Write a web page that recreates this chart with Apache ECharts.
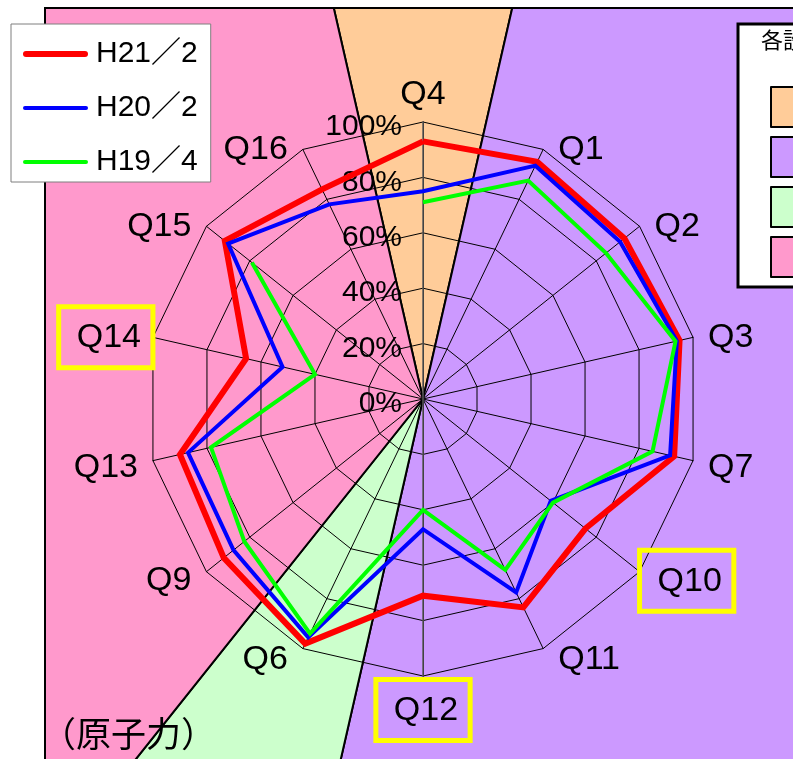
<!DOCTYPE html>
<html>
<head>
<meta charset="utf-8">
<script src="https://cdn.jsdelivr.net/npm/echarts@6/dist/echarts.min.js"></script>
<style>
  html, body { margin: 0; padding: 0; background: #fff; }
  #chart { width: 793px; height: 759px; }
</style>
</head>
<body>
<div id="chart"></div>
<script>
// Questions in clockwise order, starting at 12 o'clock
const categories = ['Q4', 'Q1', 'Q2', 'Q3', 'Q7', 'Q10', 'Q11', 'Q12', 'Q6', 'Q9', 'Q13', 'Q14', 'Q15', 'Q16'];

// Survey rounds (percent per question)
const seriesNames = ['H21／2', 'H20／2', 'H19／4'];
const valuesH21 = [93, 95, 93, 95, 93, 75, 83.5, 71, 98, 92, 90, 65.5, 91.5, 84];
const valuesH20 = [75, 93.5, 91, 94, 91.5, 59, 77.5, 47, 95.5, 87.5, 87, 52, 90, 78];
const valuesH19 = [71, 87.5, 84.5, 93.5, 85, 60, 68.5, 40, 94, 82.5, 78.5, 40, 79, null];

// Radial tick labels
const percentTicks = [0, 20, 40, 60, 80, 100];

// Questions drawn with a marker box
const highlighted = ['Q14', 'Q10', 'Q12'];

// Question groups shown as background sectors
const groupNames = ['設問群1', '設問群2', '設問群3', '設問群4'];
const groupMembers = [
  ['Q4'],
  ['Q1', 'Q2', 'Q3', 'Q7', 'Q10', 'Q11', 'Q12'],
  ['Q6'],
  ['Q9', 'Q13', 'Q14', 'Q15', 'Q16']
];
const groupLegendTitle = '各設問の分類';
const footnote = '（原子力）';

// ---- layout / style ----
const CX = 423, CY = 399, R = 277;
const FONT = "'Liberation Sans', 'Noto Sans CJK JP', sans-serif";
const CJK = "'Noto Sans CJK JP', sans-serif";
const lineColors = ['#ff0000', '#0000ff', '#00ff00'];
const lineWidths = [6, 4, 4];
const groupColors = ['#ffcc99', '#cc99ff', '#ccffcc', '#ff99cc'];

const N = categories.length;
const step = 360 / N;

// ECharts radar runs counter-clockwise, so feed it the reversed tail
const radarOrder = [categories[0]].concat(categories.slice(1).reverse());

// rich-text styles for the axis names
const rich = {
  sp: { lineHeight: 18, fontSize: 1 },
  spb: { lineHeight: 17, fontSize: 1 }
};
categories.forEach((name, k) => {
  const theta = k * step;
  const boxed = highlighted.includes(name);
  const gap = boxed ? 0 : 15;
  let pad;
  if (boxed) pad = [14, 12, 13, 18];
  else if (theta === 0) pad = [0, 0, 21, 0];
  else if (theta === 180) pad = [gap, 0, 0, 0];
  else {
    const low = theta > 90 && theta < 270;
    const dy = low ? Math.round(6 + 5 * Math.abs(Math.cos(theta * Math.PI / 180))) : 0;
    pad = theta < 180 ? [2 * dy, 0, 0, gap] : [2 * dy, gap, 0, 0];
  }
  const st = { padding: pad, fontSize: 34, lineHeight: 34, fontFamily: FONT, color: '#000' };
  if (boxed) { st.borderColor = '#ffff00'; st.borderWidth = 5; }
  rich['k' + k] = st;
});

function axisNameFormatter(name) {
  const k = categories.indexOf(name);
  const theta = k * step;
  let lead = '';
  if (highlighted.includes(name)) {
    if (theta === 180) lead = '{spb| }\n';
    else if (theta > 90 && theta < 180) lead = '{sp| }\n';
  }
  return lead + '{k' + k + '|' + name + '}';
}

function toPolar(values) {
  const pts = values.map((v, i) => [v == null ? '-' : v, i]);
  pts.push([values[0] == null ? '-' : values[0], N]); // close the loop
  return pts;
}

// legend swatches: rounded bars as thick as each line
function barIcon(w) {
  const r = w / 2;
  return 'path://M' + r + ',0H' + (65 - r) + 'A' + r + ',' + r + ' 0 0 1 ' + (65 - r) + ',' + w +
    'H' + r + 'A' + r + ',' + r + ' 0 0 1 ' + r + ',0Z';
}

const lineSeries = [valuesH21, valuesH20, valuesH19].map((vals, i) => ({
  name: seriesNames[i],
  type: 'line',
  coordinateSystem: 'polar',
  data: toPolar(vals),
  symbol: 'none',
  showSymbol: false,
  connectNulls: false,
  z: 5,
  lineStyle: { color: lineColors[i], width: lineWidths[i], join: 'miter' },
  itemStyle: { color: lineColors[i] },
  emphasis: { disabled: true }
}));

const groupSeries = {
  type: 'pie',
  name: 'groups',
  center: [CX, CY],
  radius: [0, 620],
  startAngle: 90 + step / 2,
  clockwise: true,
  silent: true,
  z: 0,
  label: { show: false },
  labelLine: { show: false },
  emphasis: { disabled: true },
  itemStyle: { borderColor: '#000', borderWidth: 2 },
  data: groupNames.map((n, i) => ({
    name: n,
    value: groupMembers[i].length,
    itemStyle: { color: groupColors[i] }
  }))
};

const option = {
  animation: false,
  backgroundColor: '#fff',
  title: [
    {
      text: footnote, left: 36, top: 711, z: 20,
      textStyle: { fontFamily: CJK, fontSize: 35, fontWeight: 'normal', color: '#000' }
    },
    {
      text: groupLegendTitle, left: 756, top: 24, z: 20,
      textStyle: { fontFamily: CJK, fontSize: 22, fontWeight: 'normal', color: '#000' }
    }
  ],
  legend: [
    {
      data: seriesNames.map((n, i) => ({ name: n, icon: barIcon(lineWidths[i]) })),
      orient: 'vertical',
      left: 11, top: 24,
      padding: [14, 13, 4, 12],
      itemWidth: 65, itemHeight: 14, itemGap: 22,
      symbolKeepAspect: true,
      backgroundColor: '#fff',
      borderColor: '#7f7f7f', borderWidth: 1,
      selectedMode: false,
      z: 20,
      textStyle: { fontFamily: FONT, fontSize: 30, lineHeight: 32, color: '#000', padding: [0, 0, 0, 3] }
    },
    {
      data: groupNames,
      orient: 'vertical',
      left: 738, top: 24,
      padding: [62, 10, 9, 32],
      itemWidth: 40, itemHeight: 40, itemGap: 8,
      icon: 'rect',
      backgroundColor: '#fff',
      borderColor: '#000', borderWidth: 3,
      selectedMode: false,
      z: 19,
      itemStyle: { borderColor: '#000', borderWidth: 2 },
      textStyle: { fontFamily: CJK, fontSize: 22, color: '#000' }
    }
  ],
  radar: {
    center: [CX, CY],
    radius: R,
    startAngle: 90,
    shape: 'polygon',
    splitNumber: 5,
    nameGap: 0,
    z: 2,
    indicator: radarOrder.map(name => ({ name: name, min: 0, max: 100 })),
    axisName: {
      color: '#000', fontSize: 34, fontFamily: FONT,
      formatter: axisNameFormatter,
      rich: rich
    },
    splitLine: { lineStyle: { color: '#000', width: 1 } },
    splitArea: { show: false },
    axisLine: { lineStyle: { color: '#000', width: 1 } },
    axisLabel: { show: false },
    axisTick: { show: false }
  },
  polar: { center: [CX, CY], radius: R },
  angleAxis: {
    type: 'value', min: 0, max: N, startAngle: 90, clockwise: true,
    show: false, axisLine: { show: false }, splitLine: { show: false },
    axisTick: { show: false }, axisLabel: { show: false }
  },
  radiusAxis: {
    type: 'value', min: 0, max: 100, show: false,
    axisLine: { show: false }, splitLine: { show: false },
    axisTick: { show: false }, axisLabel: { show: false }
  },
  // vertical value axis carrying the percent labels
  grid: { left: CX, top: CY - R, width: 1, height: 2 * R, containLabel: false },
  xAxis: { type: 'value', show: false },
  yAxis: {
    type: 'value', min: -100, max: 100, interval: 20, z: 4,
    axisLine: { show: true, onZero: false, lineStyle: { color: '#5a5a5a', width: 1.5 } },
    axisTick: { show: false },
    splitLine: { show: false },
    axisLabel: {
      margin: 21,
      color: '#000', fontSize: 30, fontFamily: FONT,
      formatter: v => (percentTicks.includes(v) ? '{p|' + v + '%}' : ''),
      rich: { p: { padding: [10, 0, 0, 0], fontSize: 30, fontFamily: FONT, color: '#000' } }
    }
  },
  graphic: [
    { type: 'rect', z: 15, silent: true, shape: { x: 0, y: 0, width: 45, height: 759 }, style: { fill: '#fff' } },
    { type: 'rect', z: 15, silent: true, shape: { x: 0, y: 0, width: 793, height: 8 }, style: { fill: '#fff' } },
    { type: 'rect', z: 16, silent: true, shape: { x: 45, y: 8, width: 900, height: 900 }, style: { fill: 'none', stroke: '#000', lineWidth: 2 } }
  ],
  series: [groupSeries].concat(lineSeries)
};

const chart = echarts.init(document.getElementById('chart'), null, { renderer: 'canvas' });
chart.setOption(option);
</script>
</body>
</html>
